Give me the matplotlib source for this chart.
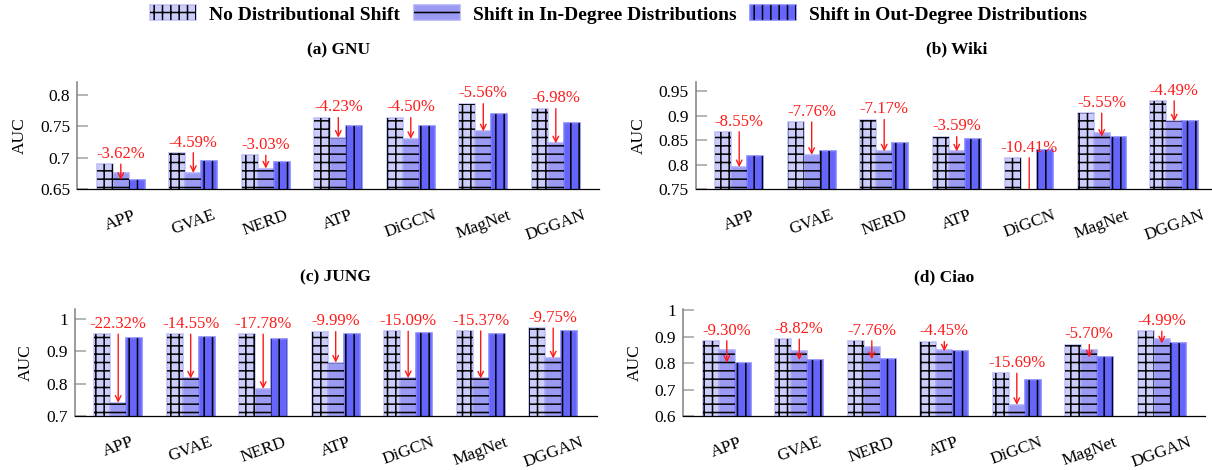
import matplotlib
matplotlib.use("Agg")
import matplotlib.pyplot as plt
from matplotlib.patches import Patch
from matplotlib.legend_handler import HandlerTuple
from matplotlib.ticker import FixedLocator, FuncFormatter
import numpy as np

plt.rcParams['font.family'] = ['Liberation Serif', 'DejaVu Serif']
plt.rcParams['hatch.linewidth'] = 1.1

methods = ["APP", "GVAE", "NERD", "ATP", "DiGCN", "MagNet", "DGGAN"]
series_names = ["No Distributional Shift", "Shift in In-Degree Distributions",
                "Shift in Out-Degree Distributions"]

gnu_none = [0.690, 0.708, 0.704, 0.764, 0.764, 0.786, 0.778]
gnu_in = [0.676, 0.676, 0.683, 0.732, 0.730, 0.742, 0.723]
gnu_out = [0.665, 0.695, 0.693, 0.750, 0.751, 0.770, 0.755]
gnu_pct = ["-3.62%", "-4.59%", "-3.03%", "-4.23%", "-4.50%", "-5.56%", "-6.98%"]

wiki_none = [0.867, 0.887, 0.892, 0.857, 0.814, 0.905, 0.930]
wiki_in = [0.795, 0.820, 0.827, 0.827, 0.729, 0.864, 0.889]
wiki_out = [0.817, 0.827, 0.845, 0.852, 0.831, 0.857, 0.888]
wiki_pct = ["-8.55%", "-7.76%", "-7.17%", "-3.59%", "-10.41%", "-5.55%", "-4.49%"]

jung_none = [0.953, 0.953, 0.953, 0.961, 0.962, 0.963, 0.972]
jung_in = [0.741, 0.816, 0.784, 0.865, 0.817, 0.816, 0.878]
jung_out = [0.942, 0.945, 0.938, 0.955, 0.958, 0.955, 0.962]
jung_pct = ["-22.32%", "-14.55%", "-17.78%", "-9.99%", "-15.09%", "-15.37%", "-9.75%"]

ciao_none = [0.885, 0.891, 0.885, 0.882, 0.762, 0.871, 0.921]
ciao_in = [0.849, 0.845, 0.860, 0.849, 0.643, 0.850, 0.891]
ciao_out = [0.802, 0.812, 0.816, 0.845, 0.737, 0.822, 0.875]
ciao_pct = ["-9.30%", "-8.82%", "-7.76%", "-4.45%", "-15.69%", "-5.70%", "-4.99%"]

W, H = 1212, 470
fig = plt.figure(figsize=(W / 100, H / 100), dpi=100)

fills = ['#cdcdfb', '#9a9af2', '#6565fb']
edges = ['#bcbcf5', '#acacf8', '#8080fc']
hatches = ['++', '--', '||']

def rect(x0, ytop, x1, ybot):
    return [x0 / W, 1 - ybot / H, (x1 - x0) / W, (ybot - ytop) / H]

panels = [
    ("(a) GNU", rect(77.3, 82.3, 599.3, 189.3), (0.65, 0.82), [0.65, 0.7, 0.75, 0.8],
     gnu_none, gnu_in, gnu_out, gnu_pct, 19.5),
    ("(b) Wiki", rect(695.7, 81.7, 1217.7, 189.3), (0.75, 0.969), [0.75, 0.8, 0.85, 0.9, 0.95],
     wiki_none, wiki_in, wiki_out, wiki_pct, 639),
    ("(c) JUNG", rect(74.7, 309.3, 596.7, 416.0), (0.7, 1.03), [0.7, 0.8, 0.9, 1.0],
     jung_none, jung_in, jung_out, jung_pct, 26),
    ("(d) Ciao", rect(683.3, 309.0, 1205.3, 416.3), (0.6, 1.005), [0.6, 0.7, 0.8, 0.9, 1.0],
     ciao_none, ciao_in, ciao_out, ciao_pct, 635),
]

bw = 0.22
x = np.arange(len(methods))
for title, r, ylim, yt, none, inn, out, pct, ylab_x in panels:
    ax = fig.add_axes(r)
    for k, vals in enumerate([none, inn, out]):
        xs = x + (k - 1) * bw
        ax.bar(xs, vals, width=bw, color=fills[k], edgecolor=edges[k], linewidth=1.1, zorder=2)
        ax.bar(xs, vals, width=bw, facecolor='none', edgecolor='black', linewidth=0,
               hatch=hatches[k], zorder=3)
    for i in range(len(methods)):
        target = min(inn[i], out[i])
        ann = ax.annotate('', xy=(x[i], target), xytext=(x[i], none[i]),
                          arrowprops=dict(arrowstyle='->', color='#ff1a1a', lw=1.0,
                                          shrinkA=0, shrinkB=0, mutation_scale=10),
                          annotation_clip=False, zorder=5)
        ann.arrow_patch.set_clip_path(ax.patch)
        ax.annotate(pct[i], xy=(x[i], none[i]), xytext=(0, 4.5), textcoords='offset points',
                    ha='center', va='baseline', color='#ff1a1a', fontsize=12, zorder=6)
    ax.set_xlim(-0.6, 6.6)
    ax.set_ylim(*ylim)
    ax.yaxis.set_major_locator(FixedLocator(yt))
    ax.yaxis.set_major_formatter(FuncFormatter(lambda v, p: ('%g' % v)))
    ax.set_xticks(x)
    ax.set_xticklabels(methods, rotation=20, ha='center', va='top')
    ax.tick_params(axis='x', length=0, pad=13, labelsize=12.5)
    ax.tick_params(axis='y', direction='in', length=8, width=1.1, color='#a0a0a0',
                   pad=5, labelsize=12.5)
    for s in ['top', 'right']:
        ax.spines[s].set_visible(False)
    ax.spines['left'].set_color('#808080')
    ax.spines['left'].set_linewidth(1.1)
    ax.spines['bottom'].set_color('black')
    ax.spines['bottom'].set_linewidth(0.9)
    ax.spines['bottom'].set_zorder(4)
    x0, ytop, x1 = r[0] * W, (1 - r[1] - r[3]) * H, (r[0] + r[2]) * W
    ybot = (1 - r[1]) * H
    fig.text((x0 + x1) / 2 / W, 1 - (ytop - 32) / H, title, ha='center', va='center',
             fontsize=12.5, fontweight='bold')
    fig.text(ylab_x / W, 1 - ((ytop + ybot) / 2) / H, "AUC", rotation=90,
             ha='center', va='center', fontsize=12.5)

handles = []
for k in range(3):
    handles.append((Patch(facecolor=fills[k], edgecolor=edges[k], linewidth=1.1),
                    Patch(facecolor='none', edgecolor='black', linewidth=0, hatch=hatches[k])))
leg = fig.legend(handles, series_names, handler_map={tuple: HandlerTuple(ndivide=1, pad=0)},
                 loc='center', bbox_to_anchor=(618.5 / W, 1 - 14.5 / H), ncol=3, frameon=False,
                 prop={'weight': 'bold', 'size': 14}, handlelength=2.37, handleheight=0.77,
                 handletextpad=0.67, columnspacing=0.72, borderpad=0)

fig.savefig("out.png", dpi=100)
